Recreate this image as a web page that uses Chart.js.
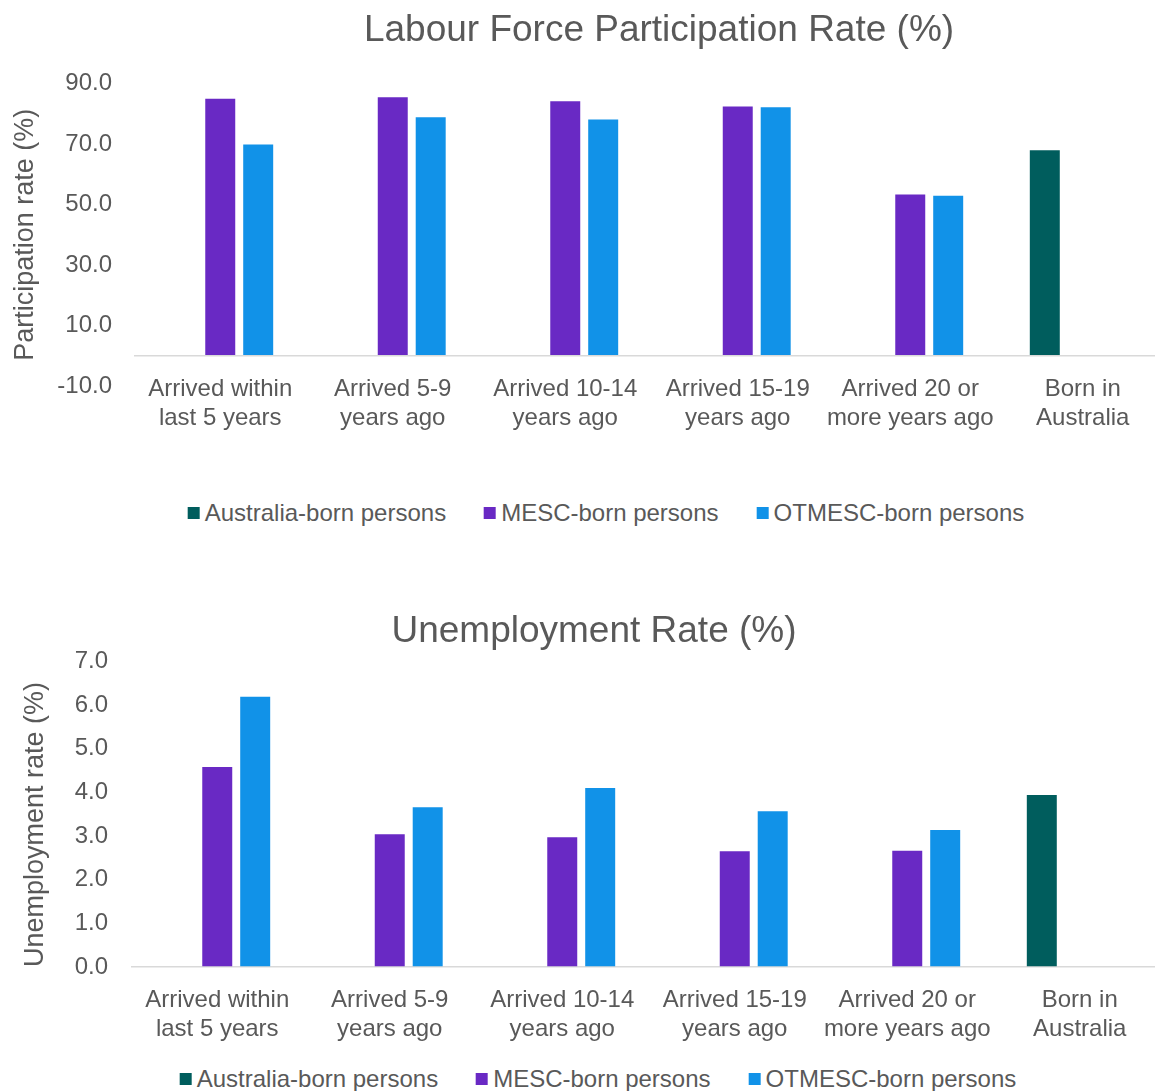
<!DOCTYPE html>
<html>
<head>
<meta charset="utf-8">
<title>Labour force participation and unemployment</title>
<script src="https://cdn.jsdelivr.net/npm/chart.js@4.4.0/dist/chart.umd.min.js"></script>
<style>
  html, body { margin: 0; padding: 0; background: #fff; overflow: hidden; width: 1155px; height: 1091px; }
  body { position: relative; font-family: "Liberation Sans", Arial, sans-serif; color: #595959; }
  canvas { position: absolute; left: 0; }
  .legend { position: absolute; display: flex; align-items: center; white-space: nowrap;
            font-size: 24px; transform: translate(-50%, -50%); }
  .legend .item { display: flex; align-items: center; margin: 0 19px; }
  .legend i { display: inline-block; width: 12px; height: 12px; margin-right: 5px; }
</style>
</head>
<body>
<canvas id="lfprChart" width="1318" height="476" style="top:0"></canvas>
<div class="legend" id="lfprLegend" style="left:606px; top:513px"></div>
<canvas id="unempChart" width="1188" height="457" style="top:590px"></canvas>
<div class="legend" id="unempLegend" style="left:598px; top:1079px"></div>

<script>
// --- DATA ---
const categories = [
  ['Arrived within', 'last 5 years'],
  ['Arrived 5-9', 'years ago'],
  ['Arrived 10-14', 'years ago'],
  ['Arrived 15-19', 'years ago'],
  ['Arrived 20 or', 'more years ago'],
  ['Born in', 'Australia']
];
const seriesNames = ['Australia-born persons', 'MESC-born persons', 'OTMESC-born persons'];
const seriesColors = ['#005d5d', '#6929c4', '#1192e8'];

// participation rate (%)
const ausParticipation   = [null, null, null, null, null, 67.9];
const mescParticipation  = [84.9, 85.4, 84.1, 82.4, 53.3, null];
const otmescParticipation = [69.8, 78.8, 78.1, 82.1, 52.9, null];
const participationTicks = [-10, 10, 30, 50, 70, 90];

// unemployment rate (%)
const ausUnemployment    = [null, null, null, null, null, 3.94];
const mescUnemployment   = [4.58, 3.04, 2.97, 2.65, 2.66, null];
const otmescUnemployment = [6.19, 3.66, 4.10, 3.57, 3.14, null];
const unemploymentTicks  = [0, 1, 2, 3, 4, 5, 6, 7];

const FONT = '"Liberation Sans", Arial, sans-serif';
const TEXT = '#595959';
const AXIS_LINE = '#d9d9d9';

Chart.defaults.font.family = FONT;
Chart.defaults.color = TEXT;

function makeDatasets(series) {
  return series.map((data, i) => ({
    label: seriesNames[i],
    data,
    backgroundColor: seriesColors[i],
    borderWidth: 0,
    categoryPercentage: 0.66,
    barPercentage: 0.79
  }));
}

// builds one grouped bar chart; opts carries the per-chart sizes
function buildChart(id, series, opts) {
  return new Chart(document.getElementById(id), {
    type: 'bar',
    data: { labels: categories, datasets: makeDatasets(series) },
    options: {
      responsive: false,
      animation: false,
      layout: { padding: { bottom: opts.bottomSpace } },
      plugins: {
        legend: { display: false },
        tooltip: { enabled: false },
        title: {
          display: true,
          text: opts.title,
          color: TEXT,
          font: { size: 37, weight: 'normal' },
          padding: opts.titlePadding
        }
      },
      scales: {
        // category axis sits on the zero line, labels hang below it
        x: {
          axis: 'x',
          position: { y: 0 },
          grid: { display: false },
          border: { display: false },
          ticks: {
            autoSkip: false, maxRotation: 0, color: TEXT,
            font: { size: 24 }, padding: 11
          }
        },
        y: {
          position: 'left',
          min: opts.ticks[0],
          max: opts.ticks[opts.ticks.length - 1],
          border: { display: false },
          grid: {
            drawTicks: false,
            lineWidth: 1.5,
            color: c => (c.tick && c.tick.value === 0) ? AXIS_LINE : 'rgba(0,0,0,0)'
          },
          // tick list plus a zero line for the category axis
          afterBuildTicks: s => {
            const vals = opts.ticks.includes(0) ? opts.ticks : opts.ticks.concat([0]);
            s.ticks = vals.slice().sort((a, b) => a - b).map(v => ({ value: v }));
          },
          ticks: {
            color: TEXT, font: { size: 24 }, padding: opts.yPadding,
            callback: v => opts.ticks.includes(v) ? v.toFixed(1) : ''
          },
          title: {
            display: true,
            text: opts.yTitle,
            color: TEXT,
            align: opts.yTitleAlign,
            font: { size: 27, weight: 'normal' },
            padding: { top: opts.yTitlePad, bottom: 0 }
          },
          afterFit: s => { s.width = opts.yWidth; }
        },
        // empty right-hand axis that holds the plot's right edge
        edge: {
          type: 'linear',
          position: 'right',
          display: true,
          grid: { display: false },
          border: { display: false },
          ticks: { display: false },
          afterFit: s => { s.width = opts.rightWidth; }
        }
      }
    }
  });
}

function buildLegend(id) {
  const box = document.getElementById(id);
  seriesNames.forEach((name, i) => {
    const item = document.createElement('span');
    item.className = 'item';
    item.innerHTML = `<i style="background:${seriesColors[i]}"></i>${name}`;
    box.appendChild(item);
  });
}

buildChart('lfprChart', [ausParticipation, mescParticipation, otmescParticipation], {
  title: 'Labour Force Participation Rate (%)',
  titlePadding: { top: 9, bottom: 30 },
  ticks: participationTicks,
  yTitle: 'Participation rate (%)',
  yTitleAlign: 'center',
  yTitlePad: 9,
  yPadding: 22,
  yWidth: 134,
  rightWidth: 149,
  bottomSpace: 90
});

buildChart('unempChart', [ausUnemployment, mescUnemployment, otmescUnemployment], {
  title: 'Unemployment Rate (%)',
  titlePadding: { top: 20, bottom: 7 },
  ticks: unemploymentTicks,
  yTitle: 'Unemployment rate (%)',
  yTitleAlign: 'start',
  yTitlePad: 19,
  yPadding: 23,
  yWidth: 131,
  rightWidth: 22,
  bottomSpace: 80
});

buildLegend('lfprLegend');
buildLegend('unempLegend');
</script>
</body>
</html>
